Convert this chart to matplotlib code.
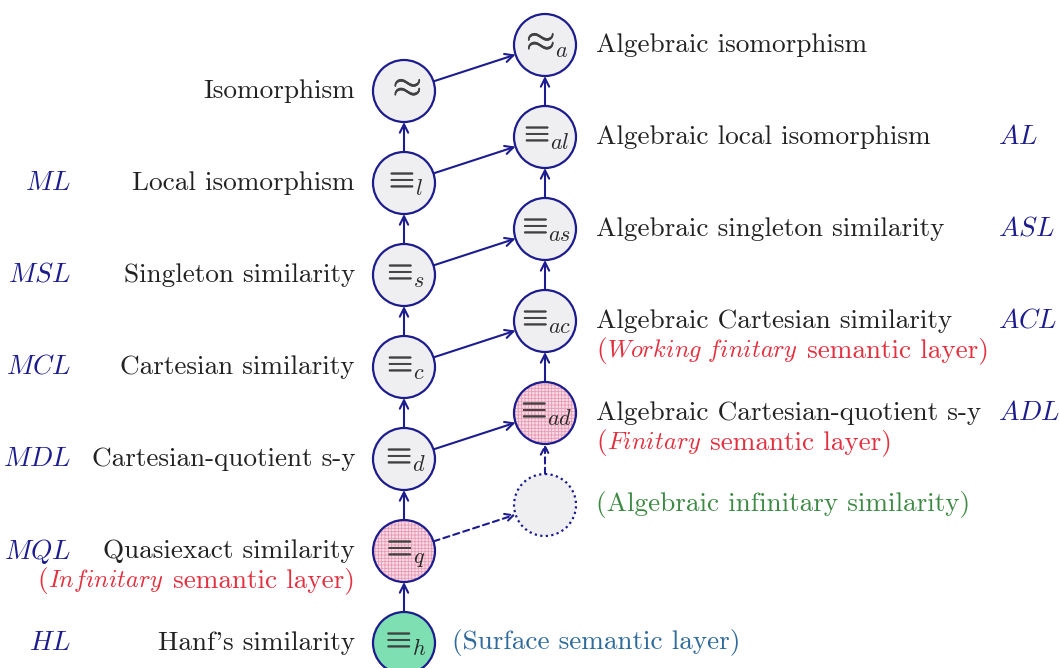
#similarity diagram: model-theoretic similarities and their algebraic counterparts
import matplotlib.pyplot as plt
from matplotlib.patches import Circle, FancyArrowPatch
import matplotlib.patheffects as pe
import math

plt.rcParams['font.family'] = 'cmr10'
plt.rcParams['mathtext.fontset'] = 'cm'
plt.rcParams['axes.formatter.use_mathtext'] = True
plt.rcParams['hatch.linewidth'] = 0.6

#nodes: column 0 = left chain, column 1 = algebraic chain, level in half-steps from top
node_names = ['iso', 'l', 's', 'c', 'd', 'q', 'h', 'a', 'al', 'as', 'ac', 'ad', 'inf']
node_symbols = [r'$\approx$', r'$\equiv$', r'$\equiv$', r'$\equiv$', r'$\equiv$', r'$\equiv$', r'$\equiv$',
                r'$\approx$', r'$\equiv$', r'$\equiv$', r'$\equiv$', r'$\equiv$', '']
node_subs = ['', 'l', 's', 'c', 'd', 'q', 'h', 'a', 'al', 'as', 'ac', 'ad', '']
node_cols = [0, 0, 0, 0, 0, 0, 0, 1, 1, 1, 1, 1, 1]
node_levels = [1, 3, 5, 7, 9, 11, 13, 0, 2, 4, 6, 8, 10]
node_kinds = ['plain', 'plain', 'plain', 'plain', 'plain', 'hatch', 'surface',
              'plain', 'plain', 'plain', 'plain', 'hatch', 'dashed']

#edges (from, to, dashed?)
edges = [('h', 'q', 0), ('q', 'd', 0), ('d', 'c', 0), ('c', 's', 0), ('s', 'l', 0), ('l', 'iso', 0),
         ('inf', 'ad', 1), ('ad', 'ac', 0), ('ac', 'as', 0), ('as', 'al', 0), ('al', 'a', 0),
         ('iso', 'a', 0), ('l', 'al', 0), ('s', 'as', 0), ('c', 'ac', 0), ('d', 'ad', 0), ('q', 'inf', 1)]

#left side labels (level, abbreviation, name)
left_levels = [1, 3, 5, 7, 9, 11, 13]
left_abbrev = ['', 'ML', 'MSL', 'MCL', 'MDL', 'MQL', 'HL']
left_names = ['Isomorphism', 'Local isomorphism', 'Singleton similarity', 'Cartesian similarity',
              'Cartesian-quotient s-y', 'Quasiexact similarity', "Hanf's similarity"]

#right side labels
right_levels = [0, 2, 4, 6, 8]
right_abbrev = ['', 'AL', 'ASL', 'ACL', 'ADL']
right_names = ['Algebraic isomorphism', 'Algebraic local isomorphism', 'Algebraic singleton similarity',
               'Algebraic Cartesian similarity', 'Algebraic Cartesian-quotient s-y']

navy = '#1c1c8e'
red = '#e3303e'
col_x = [404, 545]
R = 31
fs = 19.6

def node_xy(i):
    return col_x[node_cols[i]], 45 + 46*node_levels[i]

def lev_y(lev):
    return 45 + 46*lev

fig = plt.figure(figsize=(10.59, 6.68), dpi=100)
ax = fig.add_axes([0, 0, 1, 1])
ax.set_xlim(0, 1059)
ax.set_ylim(668, 0)
ax.set_aspect('equal')
ax.axis('off')
renderer = fig.canvas.get_renderer()

def width(t):
    return t.get_window_extent(renderer).width

#nodes
for i in range(len(node_names)):
    x, y = node_xy(i)
    kind = node_kinds[i]
    if kind == 'hatch':
        ax.add_patch(Circle((x, y), R, facecolor='#f9dbe6', edgecolor='#e79ab4', hatch='+++++', lw=0, zorder=2))
        ax.add_patch(Circle((x, y), R, fill=False, edgecolor=navy, lw=1.6, zorder=3))
    elif kind == 'surface':
        ax.add_patch(Circle((x, y), R, facecolor='#7ddfb2', edgecolor=navy, lw=1.6, zorder=2))
    elif kind == 'dashed':
        ax.add_patch(Circle((x, y), R, facecolor='#efeff1', edgecolor=navy, lw=1.6, ls=(0, (1, 1.5)), zorder=2))
    else:
        ax.add_patch(Circle((x, y), R, facecolor='#efeff1', edgecolor=navy, lw=1.6, zorder=2))
    if not node_symbols[i]:
        continue
    size = 27 if 'approx' in node_symbols[i] else 24
    main = ax.text(x, y-3, node_symbols[i], fontsize=size, ha='left', va='center', color='#404040', zorder=4,
                   path_effects=[pe.withStroke(linewidth=0.5, foreground='#404040')])
    if node_subs[i]:
        sub = ax.text(x, y+12, r'$\mathit{%s}$' % node_subs[i], fontsize=16, ha='left', va='baseline',
                      color='#2a2a2a', zorder=4)
        wm, ws = width(main), width(sub)
        x0 = x - (wm+ws)/2 - 1
        main.set_x(x0)
        sub.set_x(x0+wm)
    else:
        main.set_x(x - width(main)/2)

#edges
idx = {n: i for i, n in enumerate(node_names)}
for a, b, dashed in edges:
    x1, y1 = node_xy(idx[a])
    x2, y2 = node_xy(idx[b])
    d = math.hypot(x2-x1, y2-y1)
    ux, uy = (x2-x1)/d, (y2-y1)/d
    p1 = (x1+ux*R, y1+uy*R)
    p2 = (x2-ux*R, y2-uy*R)
    ls = (0, (3, 2)) if dashed else '-'
    ax.add_patch(FancyArrowPatch(p1, p2, arrowstyle='->,head_length=6,head_width=3',
                                 color=navy, lw=1.5, ls=ls, shrinkA=0, shrinkB=0, zorder=1))

#text made of roman and italic runs, laid out left to right
def runs(x, y, parts, color, ha='left'):
    texts = []
    for s, it in parts:
        if it:
            t = ax.text(x, y, r'$\mathit{%s}$' % s.replace(' ', r'\ '), fontsize=fs*0.9, ha='left', va='baseline', color=color)
        else:
            t = ax.text(x, y, s, fontsize=fs, ha='left', va='baseline', color=color)
        texts.append(t)
    total = sum(width(t) for t in texts)
    cx = x - total if ha == 'right' else x
    for t in texts:
        t.set_x(cx)
        cx += width(t)

#left labels
for lev, ab, nm in zip(left_levels, left_abbrev, left_names):
    y = lev_y(lev)
    ax.text(355, y, nm, fontsize=fs, ha='right', va='center', color='#222222')
    if ab:
        ax.text(71, y, r'$\mathit{%s}$' % ab, fontsize=fs, ha='right', va='center', color=navy)
runs(355, lev_y(11)+36, [('(', 0), ('Infinitary', 1), (' semantic layer)', 0)], red, ha='right')

#right labels
for lev, ab, nm in zip(right_levels, right_abbrev, right_names):
    y = lev_y(lev)
    ax.text(596, y, nm, fontsize=fs, ha='left', va='center', color='#222222')
    if ab:
        ax.text(998, y, r'$\mathit{%s}$' % ab, fontsize=fs, ha='left', va='center', color=navy)
runs(596, lev_y(6)+36, [('(', 0), ('Working finitary', 1), (' semantic layer)', 0)], red)
runs(596, lev_y(8)+36, [('(', 0), ('Finitary', 1), (' semantic layer)', 0)], red)
ax.text(596, lev_y(10), '(Algebraic infinitary similarity)', fontsize=fs, ha='left', va='center', color='#3e8a44')
ax.text(452, lev_y(13), '(Surface semantic layer)', fontsize=fs, ha='left', va='center', color='#2f6a9c')

fig.savefig('out.png', dpi=100, facecolor='white')
